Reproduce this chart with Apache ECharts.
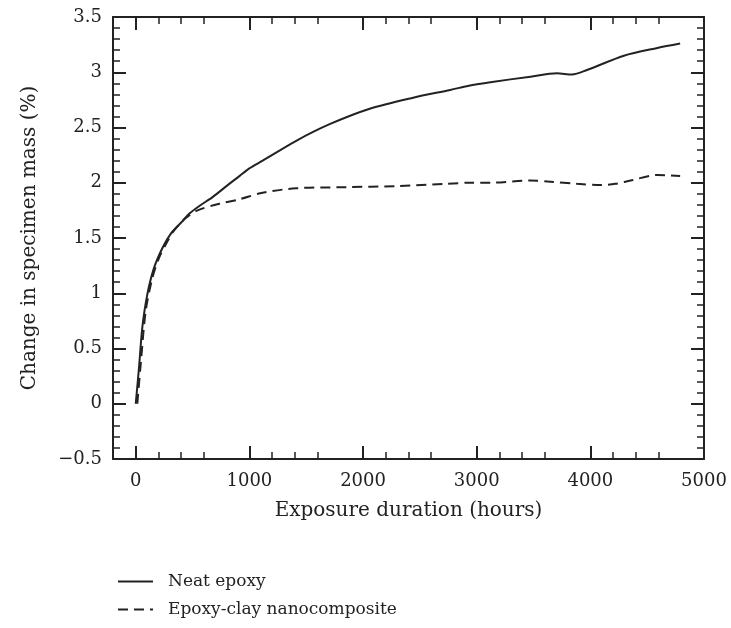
<!DOCTYPE html>
<html>
<head>
<meta charset="utf-8">
<script src="https://cdn.jsdelivr.net/npm/echarts@6/dist/echarts.min.js"></script>
<style>
    html, body { margin: 0; padding: 0; background: #ffffff; }
    #chart { width: 731px; height: 628px; }
</style>
</head>
<body>
<div id="chart"></div>
<script>
    // values
    var neatHours = [0, 29, 58, 102, 161, 235, 309, 400, 470, 560, 676, 823, 912, 1000, 1117, 1412, 1706, 2059, 2441, 2767, 2941, 3120, 3473, 3706, 3838, 3970, 4295, 4590, 4790];
    var neatMass = [0, 0.33, 0.69, 0.99, 1.23, 1.41, 1.54, 1.64, 1.72, 1.79, 1.87, 1.99, 2.06, 2.13, 2.2, 2.38, 2.53, 2.67, 2.77, 2.84, 2.88, 2.91, 2.96, 2.99, 2.98, 3.02, 3.15, 3.22, 3.26];
    var clayHours = [14, 44, 88, 147, 205, 279, 338, 440, 544, 735, 912, 1117, 1412, 1853, 2294, 2735, 2941, 3120, 3473, 3650, 3882, 4090, 4220, 4354, 4590, 4790];
    var clayMass = [0, 0.36, 0.84, 1.14, 1.32, 1.47, 1.57, 1.68, 1.75, 1.81, 1.85, 1.91, 1.95, 1.96, 1.97, 1.99, 2.0, 2.0, 2.02, 2.01, 1.99, 1.98, 1.99, 2.02, 2.07, 2.06];
    var xTicks = [0, 1000, 2000, 3000, 4000, 5000];
    var seriesNames = ['Neat epoxy', 'Epoxy-clay nanocomposite'];

    var font = '"DejaVu Serif", "Liberation Serif", serif';
    var ink = '#222222';

    function pairs(xs, ys) {
        return xs.map(function (x, i) { return [x, ys[i]]; });
    }

    function xAxisDef(pos, labels) {
        return {
            type: 'value', position: pos, min: -200, max: 5000, interval: 1000,
            name: labels ? 'Exposure duration (hours)' : '',
            nameLocation: 'middle', nameGap: 42,
            nameTextStyle: { fontFamily: font, fontSize: 20, color: ink },
            axisLine: { show: true, onZero: false, lineStyle: { color: ink, width: 2 } },
            axisTick: { show: true, inside: true, length: 13, lineStyle: { color: ink, width: 2 },
                customValues: xTicks },
            minorTick: { show: true, splitNumber: 5, length: 7, lineStyle: { color: ink, width: 1.5 } },
            axisLabel: { show: labels, margin: 13, fontFamily: font, fontSize: 18, color: ink,
                customValues: xTicks, formatter: function (v) { return String(v); } },
            splitLine: { show: false }
        };
    }

    function yAxisDef(pos, labels) {
        return {
            type: 'value', position: pos, min: -0.5, max: 3.5, interval: 0.5,
            name: labels ? 'Change in specimen mass (%)' : '',
            nameLocation: 'middle', nameGap: 73,
            nameTextStyle: { fontFamily: font, fontSize: 20, color: ink },
            axisLine: { show: true, onZero: false, lineStyle: { color: ink, width: 2 } },
            axisTick: { show: true, inside: true, length: 13, lineStyle: { color: ink, width: 2 } },
            minorTick: { show: true, splitNumber: 5, length: 7, lineStyle: { color: ink, width: 1.5 } },
            axisLabel: { show: labels, margin: 11, fontFamily: font, fontSize: 18, color: ink,
                formatter: function (v) { return v < 0 ? '\u2212' + Math.abs(v) : String(v); } },
            splitLine: { show: false }
        };
    }

    function legendDef(name, top) {
        return {
            orient: 'vertical', left: 112, top: top,
            itemWidth: 35, itemHeight: 14,
            data: [name],
            itemStyle: { opacity: 0 },
            textStyle: { fontFamily: font, fontSize: 17, color: ink, padding: [0, 0, 0, 10] }
        };
    }

    var chart = echarts.init(document.getElementById('chart'));
    chart.setOption({
        backgroundColor: '#ffffff',
        animation: false,
        grid: { left: 113, right: 27, top: 17, bottom: 169 },
        xAxis: [xAxisDef('bottom', true), xAxisDef('top', false)],
        yAxis: [yAxisDef('left', true), yAxisDef('right', false)],
        legend: [legendDef(seriesNames[0], 568), legendDef(seriesNames[1], 596)],
        series: [
            {
                name: seriesNames[0], type: 'line', data: pairs(neatHours, neatMass),
                symbol: 'none', smooth: 0.3,
                lineStyle: { color: ink, width: 2 }, itemStyle: { color: ink }
            },
            {
                name: seriesNames[1], type: 'line', data: pairs(clayHours, clayMass),
                symbol: 'none', smooth: 0.3,
                lineStyle: { color: ink, width: 2, type: [10, 6] }, itemStyle: { color: ink }
            }
        ]
    });
</script>
</body>
</html>
